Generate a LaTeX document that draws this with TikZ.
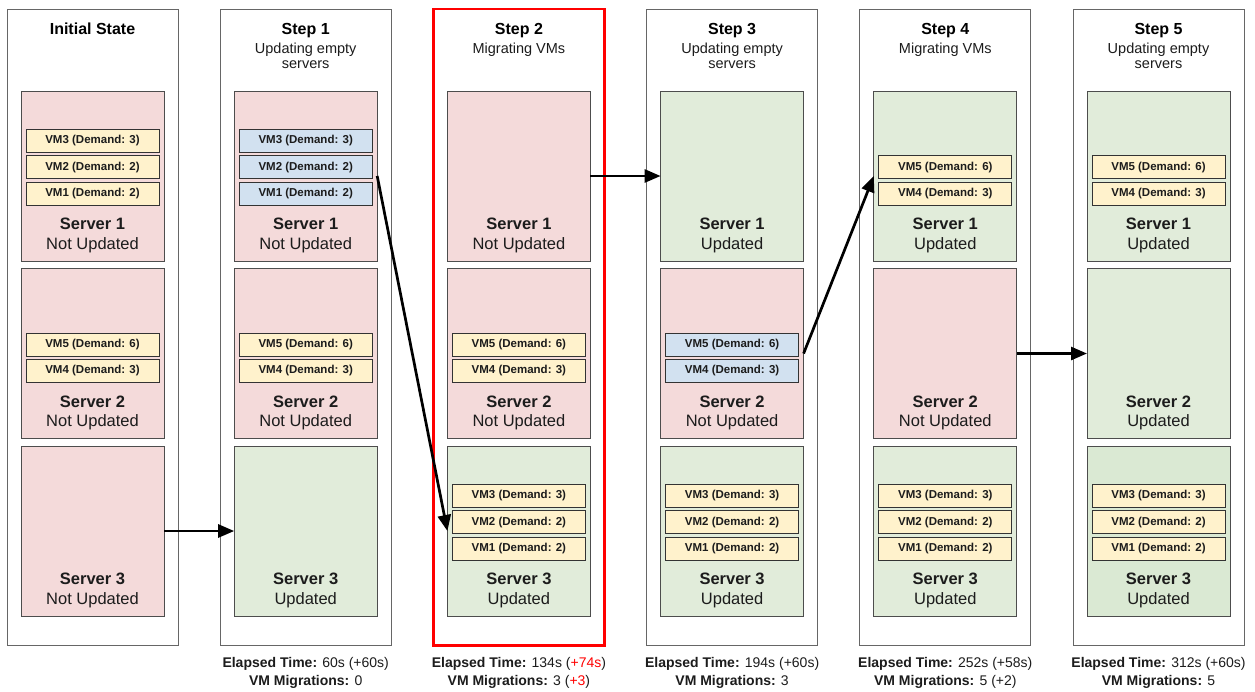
\documentclass[tikz,border=0pt]{standalone}
\usepackage{fontspec}
\setmainfont{Liberation Sans}
\usetikzlibrary{arrows.meta}

\definecolor{srvred}{HTML}{F4DADA}
\definecolor{srvgreen}{HTML}{E1ECDA}
\definecolor{srvgreendeep}{HTML}{DAE9D3}
\definecolor{vmyellow}{HTML}{FFF2CC}
\definecolor{vmblue}{HTML}{D2E1F0}
\definecolor{colline}{HTML}{666666}
\definecolor{srvline}{HTML}{4D4D4D}
\definecolor{vmline}{HTML}{333333}
\definecolor{txt}{HTML}{1C1C1C}
\definecolor{hot}{HTML}{FF0000}

\newcommand{\setpx}[1]{\fontsize{#1}{#1}\selectfont}

% server box: name, column, row, fill, status text
\newcommand{\putserver}[5]{%
  \node[srvbox, fill=#4] (#1) at ({7+213.2*#2+14},{91+177.5*#3}) {};
  \node[srvname] (#1-n) at ([yshift=-138.5pt]#1.north) {Server \number\numexpr#3+1\relax};
  \node[srvstate] (#1-s) at ([yshift=-158pt]#1.north) {#5};
}
% VM box: name, server, slot (0 = lowest), fill, label
\newcommand{\putvm}[5]{%
  \node[vmbox, fill=#4] (#1) at ([yshift={(26.3*#3-102.5)*1pt}]#2.north) {#5};
}

\begin{document}
\begin{tikzpicture}[x=1pt, y=-1pt,
  colbox/.style={draw=colline, line width=1pt, fill=white, inner sep=0pt, outer sep=0pt,
    minimum width=171pt, minimum height=636.5pt, anchor=north west},
  srvbox/.style={draw=srvline, line width=0.9pt, inner sep=0pt, outer sep=0pt,
    minimum width=143pt, minimum height=170pt, anchor=north west},
  vmbox/.style={draw=vmline, line width=0.9pt, inner sep=0pt, outer sep=0pt,
    minimum width=133pt, minimum height=23pt, text=txt, font=\bfseries\setpx{11.5}},
  srvname/.style={anchor=base, inner sep=0pt, text=txt, font=\bfseries\setpx{16.5}},
  srvstate/.style={anchor=base, inner sep=0pt, text=txt, font=\setpx{16.5}},
  ttl/.style={anchor=base, inner sep=0pt, text=black, font=\bfseries\setpx{16}},
  subttl/.style={anchor=base, inner sep=0pt, text=txt, font=\setpx{14.5}},
  stat/.style={anchor=base, inner sep=0pt, text=txt, font=\setpx{14}},
  mig/.style={line width=2.7pt, black, -{Triangle[length=16pt, width=13pt]}}
]
\useasboundingbox (0,0) rectangle (1255,691);
\fill[white] (0,0) rectangle (1255,691);

% step columns
\foreach \i in {0,1,3,4,5}
  \node[colbox] (c\i) at ({7+213.2*\i},9) {};
\node[colbox, draw=hot, line width=2.6pt] (c2) at ({7+213.2*2},9) {};

% column headings
\node[ttl] (t0) at ([yshift=-25.5pt]c0.north) {Initial State};
\node[ttl] (t1) at ([yshift=-25.5pt]c1.north) {Step 1};
\node[subttl] (t1a) at ([yshift=-44.3pt]c1.north) {Updating empty};
\node[subttl] (t1b) at ([yshift=-59.3pt]c1.north) {servers};
\node[ttl] (t2) at ([yshift=-25.5pt]c2.north) {Step 2};
\node[subttl] (t2a) at ([yshift=-44.3pt]c2.north) {Migrating VMs};
\node[ttl] (t3) at ([yshift=-25.5pt]c3.north) {Step 3};
\node[subttl] (t3a) at ([yshift=-44.3pt]c3.north) {Updating empty};
\node[subttl] (t3b) at ([yshift=-59.3pt]c3.north) {servers};
\node[ttl] (t4) at ([yshift=-25.5pt]c4.north) {Step 4};
\node[subttl] (t4a) at ([yshift=-44.3pt]c4.north) {Migrating VMs};
\node[ttl] (t5) at ([yshift=-25.5pt]c5.north) {Step 5};
\node[subttl] (t5a) at ([yshift=-44.3pt]c5.north) {Updating empty};
\node[subttl] (t5b) at ([yshift=-59.3pt]c5.north) {servers};

% initial state
\putserver{s00}{0}{0}{srvred}{Not Updated}
\putserver{s01}{0}{1}{srvred}{Not Updated}
\putserver{s02}{0}{2}{srvred}{Not Updated}
\putvm{v002}{s00}{2}{vmyellow}{VM3 (Demand: 3)}
\putvm{v001}{s00}{1}{vmyellow}{VM2 (Demand: 2)}
\putvm{v000}{s00}{0}{vmyellow}{VM1 (Demand: 2)}
\putvm{v011}{s01}{1}{vmyellow}{VM5 (Demand: 6)}
\putvm{v010}{s01}{0}{vmyellow}{VM4 (Demand: 3)}

% step 1
\putserver{s10}{1}{0}{srvred}{Not Updated}
\putserver{s11}{1}{1}{srvred}{Not Updated}
\putserver{s12}{1}{2}{srvgreen}{Updated}
\putvm{v102}{s10}{2}{vmblue}{VM3 (Demand: 3)}
\putvm{v101}{s10}{1}{vmblue}{VM2 (Demand: 2)}
\putvm{v100}{s10}{0}{vmblue}{VM1 (Demand: 2)}
\putvm{v111}{s11}{1}{vmyellow}{VM5 (Demand: 6)}
\putvm{v110}{s11}{0}{vmyellow}{VM4 (Demand: 3)}

% step 2
\putserver{s20}{2}{0}{srvred}{Not Updated}
\putserver{s21}{2}{1}{srvred}{Not Updated}
\putserver{s22}{2}{2}{srvgreen}{Updated}
\putvm{v211}{s21}{1}{vmyellow}{VM5 (Demand: 6)}
\putvm{v210}{s21}{0}{vmyellow}{VM4 (Demand: 3)}
\putvm{v222}{s22}{2}{vmyellow}{VM3 (Demand: 3)}
\putvm{v221}{s22}{1}{vmyellow}{VM2 (Demand: 2)}
\putvm{v220}{s22}{0}{vmyellow}{VM1 (Demand: 2)}

% step 3
\putserver{s30}{3}{0}{srvgreen}{Updated}
\putserver{s31}{3}{1}{srvred}{Not Updated}
\putserver{s32}{3}{2}{srvgreen}{Updated}
\putvm{v311}{s31}{1}{vmblue}{VM5 (Demand: 6)}
\putvm{v310}{s31}{0}{vmblue}{VM4 (Demand: 3)}
\putvm{v322}{s32}{2}{vmyellow}{VM3 (Demand: 3)}
\putvm{v321}{s32}{1}{vmyellow}{VM2 (Demand: 2)}
\putvm{v320}{s32}{0}{vmyellow}{VM1 (Demand: 2)}

% step 4
\putserver{s40}{4}{0}{srvgreen}{Updated}
\putserver{s41}{4}{1}{srvred}{Not Updated}
\putserver{s42}{4}{2}{srvgreen}{Updated}
\putvm{v401}{s40}{1}{vmyellow}{VM5 (Demand: 6)}
\putvm{v400}{s40}{0}{vmyellow}{VM4 (Demand: 3)}
\putvm{v422}{s42}{2}{vmyellow}{VM3 (Demand: 3)}
\putvm{v421}{s42}{1}{vmyellow}{VM2 (Demand: 2)}
\putvm{v420}{s42}{0}{vmyellow}{VM1 (Demand: 2)}

% step 5
\putserver{s50}{5}{0}{srvgreen}{Updated}
\putserver{s51}{5}{1}{srvgreen}{Updated}
\putserver{s52}{5}{2}{srvgreendeep}{Updated}
\putvm{v501}{s50}{1}{vmyellow}{VM5 (Demand: 6)}
\putvm{v500}{s50}{0}{vmyellow}{VM4 (Demand: 3)}
\putvm{v522}{s52}{2}{vmyellow}{VM3 (Demand: 3)}
\putvm{v521}{s52}{1}{vmyellow}{VM2 (Demand: 2)}
\putvm{v520}{s52}{0}{vmyellow}{VM1 (Demand: 2)}

% transitions between steps
\draw[mig] (s02.east) -- (s12.west);
\draw[mig] (s10.east) -- (s22.west);
\draw[mig] (s20.east) -- (s30.west);
\draw[mig] (s31.east) -- (s40.west);
\draw[mig] (s41.east) -- (s51.west);

% running totals
\node[stat] (e1) at ([yshift=-22pt]c1.south) {\textbf{Elapsed Time:} 60s (+60s)};
\node[stat] (m1) at ([yshift=-39.5pt]c1.south) {\textbf{VM Migrations:} 0};
\node[stat] (e2) at ([yshift=-22pt]c2.south) {\textbf{Elapsed Time:} 134s (\textcolor{hot}{+74s})};
\node[stat] (m2) at ([yshift=-39.5pt]c2.south) {\textbf{VM Migrations:} 3 (\textcolor{hot}{+3})};
\node[stat] (e3) at ([yshift=-22pt]c3.south) {\textbf{Elapsed Time:} 194s (+60s)};
\node[stat] (m3) at ([yshift=-39.5pt]c3.south) {\textbf{VM Migrations:} 3};
\node[stat] (e4) at ([yshift=-22pt]c4.south) {\textbf{Elapsed Time:} 252s (+58s)};
\node[stat] (m4) at ([yshift=-39.5pt]c4.south) {\textbf{VM Migrations:} 5 (+2)};
\node[stat] (e5) at ([yshift=-22pt]c5.south) {\textbf{Elapsed Time:} 312s (+60s)};
\node[stat] (m5) at ([yshift=-39.5pt]c5.south) {\textbf{VM Migrations:} 5};
\end{tikzpicture}
\end{document}
